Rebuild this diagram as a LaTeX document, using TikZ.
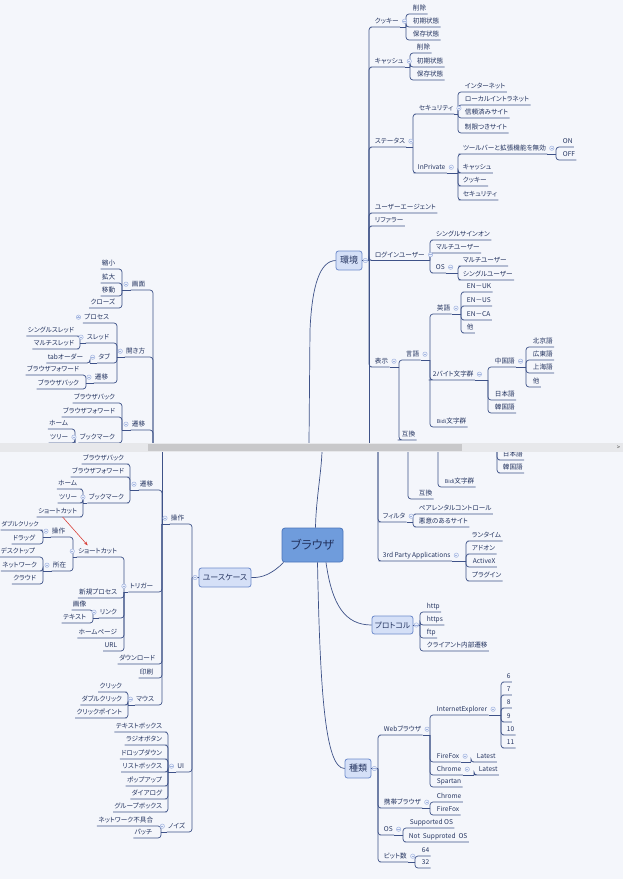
\documentclass[tikz,border=0pt]{standalone}
\usepackage{fontspec}
\setmainfont[RawFeature=+palt]{Noto Sans CJK JP}
\usetikzlibrary{arrows.meta}
\definecolor{bgc}{HTML}{F4F6FB}
\definecolor{txc}{HTML}{23335F}
\definecolor{lnc}{HTML}{3E5288}
\definecolor{hubf}{HTML}{D5E0F7}
\definecolor{hubd}{HTML}{6E8BCB}
\definecolor{brf}{HTML}{6F9CDC}
\definecolor{brd}{HTML}{4C76BC}
\definecolor{ccd}{HTML}{A3B5E0}
\definecolor{ccf}{HTML}{EEF2FB}
\definecolor{sepl}{HTML}{E7E8EB}
\definecolor{sepd}{HTML}{C8C8CA}
\definecolor{arrc}{HTML}{D9413A}
\newcommand\mmlab{\fontsize{6.6}{7}\selectfont}
\newcommand\mmR[2]{\draw[ln] (#1) |- (#2.south west) -- (#2.south east);}
\newcommand\mmL[2]{\draw[ln] (#1) |- (#2.south east) -- (#2.south west);}
\newcommand\mmSR[2]{\draw[ln] (#1.south east) -- (#2);}
\newcommand\mmSL[2]{\draw[ln] (#1.south west) -- (#2);}
\newcommand\mmCR[2][4.5pt]{\draw[cc] ([xshift=#1]#2.east) circle (2.2pt);\draw[ccd,line width=.5pt] ([xshift=#1-1.2pt]#2.east) -- ([xshift=#1+1.2pt]#2.east);}
\newcommand\mmCL[2][4.5pt]{\draw[cc] ([xshift=-#1]#2.west) circle (2.2pt);\draw[ccd,line width=.5pt] ([xshift=-#1-1.2pt]#2.west) -- ([xshift=-#1+1.2pt]#2.west);}
\begin{document}
\begin{tikzpicture}[x=1pt,y=-1pt,
 lf/.style={font=\mmlab, text=txc, inner xsep=1.2pt, inner ysep=2.3pt, text height=5.6pt, text depth=1pt},
 mr/.style={lf, anchor=south west},
 ml/.style={lf, anchor=south east},
 ln/.style={draw=lnc, line width=0.7pt, rounded corners=3pt},
 cn/.style={draw=lnc, line width=0.7pt},
 hub/.style={draw=hubd, fill=hubf, rounded corners=2.5pt, line width=0.8pt, text=txc, minimum height=19pt, inner sep=1pt},
 cc/.style={draw=ccd, fill=ccf, line width=0.5pt}]
\fill[bgc] (0,0) rectangle (623,879);
\useasboundingbox (0,0) rectangle (623,879);

% ================= central =================
\node[draw=brd, fill=brf, rounded corners=3pt, line width=0.8pt, minimum width=61pt, minimum height=34pt, font=\fontsize{12}{14}\selectfont, text=txc] (br) at (312.5,545) {ブラウザ};

% ================= 環境 (top view) =================
\node[hub, minimum width=26pt, font=\fontsize{9}{10}\selectfont] (env) at (349,260.5) {環境};
\coordinate (envT) at (369,260.5);
\coordinate (envE) at (369,443);
\draw[cn] (env.east) -- (envT) -- (envE);
\coordinate (cutT) at (309,443);
\coordinate (cutB) at (322,452);
\draw[cn] (cutT) -- (310,330) .. controls (312,285) and (320,261) .. (env.west);
\draw[cn] ([xshift=3pt]br.north) .. controls (316,500) and (321,475) .. (cutB);

\node[mr] (kk) at (373.5,27) {クッキー};
\node[mr] (ca) at (373.5,67) {キャッシュ};
\node[mr] (st) at (373.5,147) {ステータス};
\node[mr] (ua) at (373.5,213) {ユーザーエージェント};
\node[mr] (rf) at (373.5,226) {リファラー};
\node[mr] (lg) at (373.5,260.5) {ログインユーザー};
\node[mr] (hy) at (373.5,367) {表示};
\foreach \c in {kk,ca,st,ua,rf,lg,hy}{\mmR{envT}{\c}}

\coordinate (kkT) at (406,27);
\node[mr] (kk1) at (411.5,14) {削除};
\node[mr] (kk2) at (411.5,27) {初期状態};
\node[mr] (kk3) at (411.5,40) {保存状態};
\mmSR{kk}{kkT}\foreach \c in {kk1,kk2,kk3}{\mmR{kkT}{\c}}

\coordinate (caT) at (410,67);
\node[mr] (ca1) at (415.5,53) {削除};
\node[mr] (ca2) at (415.5,67) {初期状態};
\node[mr] (ca3) at (415.5,80) {保存状態};
\mmSR{ca}{caT}\foreach \c in {ca1,ca2,ca3}{\mmR{caT}{\c}}

\coordinate (stT) at (413,147);
\node[mr] (se) at (417.5,114) {セキュリティ};
\node[mr] (ip) at (416.5,173) {InPrivate};
\mmSR{st}{stT}\foreach \c in {se,ip}{\mmR{stT}{\c}}

\coordinate (seT) at (458,114);
\node[mr] (se1) at (463.5,92) {インターネット};
\node[mr] (se2) at (463.5,105) {ローカルイントラネット};
\node[mr] (se3) at (463.5,118) {信頼済みサイト};
\node[mr] (se4) at (463.5,133) {制限つきサイト};
\mmSR{se}{seT}\foreach \c in {se1,se2,se3,se4}{\mmR{seT}{\c}}

\coordinate (ipT) at (458,173);
\node[mr] (ip1) at (461.5,154) {ツールバーと拡張機能を無効};
\node[mr] (ip2) at (461.5,173) {キャッシュ};
\node[mr] (ip3) at (461.5,186) {クッキー};
\node[mr] (ip4) at (461.5,200) {セキュリティ};
\mmSR{ip}{ipT}\foreach \c in {ip1,ip2,ip3,ip4}{\mmR{ipT}{\c}}

\coordinate (ip1T) at (556,154);
\node[mr] (on) at (561.5,147) {ON};
\node[mr] (off) at (561.5,160) {OFF};
\mmSR{ip1}{ip1T}\foreach \c in {on,off}{\mmR{ip1T}{\c}}

\coordinate (lgT) at (430,260.5);
\node[mr] (lg1) at (434.5,240) {シングルサインオン};
\node[mr] (lg2) at (434.5,253) {マルチユーザー};
\node[mr] (lo) at (434.5,273) {OS};
\mmSR{lg}{lgT}\foreach \c in {lg1,lg2,lo}{\mmR{lgT}{\c}}

\coordinate (loT) at (458,273);
\node[mr] (lo1) at (461.5,266) {マルチユーザー};
\node[mr] (lo2) at (461.5,280) {シングルユーザー};
\mmSR{lo}{loT}\foreach \c in {lo1,lo2}{\mmR{loT}{\c}}

\coordinate (hyT) at (399,367);
\node[mr] (gg) at (404.5,360) {言語};
\node[mr] (gk) at (400.5,440) {互換};
\mmSR{hy}{hyT}\foreach \c in {gg,gk}{\mmR{hyT}{\c}}

\coordinate (ggT) at (430,360);
\node[mr] (en) at (435.5,314) {英語};
\node[mr] (tb) at (431.5,380) {2バイト文字群};
\node[mr] (bd) at (435.5,427) {{\fontsize{5.2}{6}\selectfont Bidi}文字群};
\mmSR{gg}{ggT}\foreach \c in {en,tb,bd}{\mmR{ggT}{\c}}

\coordinate (enT) at (461,314);
\node[mr] (en1) at (465.5,292) {EN－UK};
\node[mr] (en2) at (465.5,306) {EN－US};
\node[mr] (en3) at (465.5,320) {EN－CA};
\node[mr] (en4) at (465.5,333) {他};
\mmSR{en}{enT}\foreach \c in {en1,en2,en3,en4}{\mmR{enT}{\c}}

\coordinate (tbT) at (488,380);
\node[mr] (cn) at (493.5,367) {中国語};
\node[mr] (jp) at (493.5,400) {日本語};
\node[mr] (kr) at (493.5,413) {韓国語};
\mmSR{tb}{tbT}\foreach \c in {cn,jp,kr}{\mmR{tbT}{\c}}

\coordinate (cnT) at (526,367);
\node[mr] (cn1) at (531.5,347) {北京語};
\node[mr] (cn2) at (531.5,360) {広東語};
\node[mr] (cn3) at (531.5,373) {上海語};
\node[mr] (cn4) at (531.5,387) {他};
\mmSR{cn}{cnT}\foreach \c in {cn1,cn2,cn3,cn4}{\mmR{cnT}{\c}}

% ================= 操作 (top view) =================
\coordinate (opA) at (153,443);
\node[ml] (gm) at (146.5,290) {画面};
\node[ml] (hk) at (146.5,357) {開き方};
\node[ml] (sv) at (146.5,430) {遷移};
\foreach \c in {gm,hk,sv}{\mmL{opA}{\c}}

\coordinate (gmT) at (122,290);
\node[ml] (gm1) at (116.5,269) {縮小};
\node[ml] (gm2) at (116.5,283) {拡大};
\node[ml] (gm3) at (116.5,296) {移動};
\node[ml] (gm4) at (116.5,308) {クローズ};
\mmSL{gm}{gmT}\foreach \c in {gm1,gm2,gm3,gm4}{\mmL{gmT}{\c}}

\coordinate (hkT) at (117,357);
\node[ml] (ps) at (110.5,323) {プロセス};
\node[ml] (sr) at (110.5,343) {スレッド};
\node[ml] (tab) at (111.5,363) {タブ};
\node[ml] (hs) at (109.5,383) {遷移};
\mmSL{hk}{hkT}\foreach \c in {ps,sr,tab,hs}{\mmL{hkT}{\c}}

\coordinate (srT) at (80,343);
\node[ml] (sr1) at (75.5,336) {シングルスレッド};
\node[ml] (sr2) at (75.5,349) {マルチスレッド};
\mmSL{sr}{srT}\foreach \c in {sr1,sr2}{\mmL{srT}{\c}}

\coordinate (tabT) at (90,363);
\node[ml] (tab1) at (84.5,363) {tabオーダー};
\mmSL{tab}{tabT}\mmL{tabT}{tab1}

\coordinate (hsT) at (86,383);
\node[ml] (hs1) at (80.5,375) {ブラウザフォワード};
\node[ml] (hs2) at (80.5,389) {ブラウザバック};
\mmSL{hs}{hsT}\foreach \c in {hs1,hs2}{\mmL{hsT}{\c}}

\coordinate (svT) at (122,430);
\node[ml] (sv1) at (116.5,403) {ブラウザバック};
\node[ml] (sv2) at (116.5,417) {ブラウザフォワード};
\node[ml] (sv3) at (116.5,443) {ブックマーク};
\mmSL{sv}{svT}\foreach \c in {sv1,sv2,sv3}{\mmL{svT}{\c}}

\coordinate (sv3T) at (75,443);
\node[ml] (sv31) at (69.5,429) {ホーム};
\node[ml] (sv32) at (69.5,443) {ツリー};
\mmSL{sv3}{sv3T}\foreach \c in {sv31,sv32}{\mmL{sv3T}{\c}}

% ================= ユースケース (bottom view) =================
\node[hub, minimum width=52pt, font=\fontsize{8}{9}\selectfont] (uc) at (225,577.5) {ユースケース};
\coordinate (ucT) at (192,577.5);
\draw[cn] (uc.west) -- (ucT);
\draw[cn] ([xshift=2pt]br.south west) .. controls (272,574) and (262,578) .. (uc.east);
\node[ml] (op) at (185.5,524) {操作};
\node[ml] (ui) at (185.5,772) {UI};
\node[ml] (nz) at (186.5,832) {ノイズ};
\foreach \c in {op,ui,nz}{\mmL{ucT}{\c}}

\coordinate (opT) at (162,524);
\coordinate (opB) at (162,452);
\mmSL{op}{opT}\draw[cn] (opT) -- (opB);
\node[ml] (sb) at (154.5,490) {遷移};
\node[ml] (tr) at (154.5,592) {トリガー};
\node[ml] (dl) at (156.5,664) {ダウンロード};
\node[ml] (pr) at (154.5,678) {印刷};
\node[ml] (ms) at (155.5,705) {マウス};
\foreach \c in {sb,tr,dl,pr,ms}{\mmL{opT}{\c}}

\coordinate (sbT) at (130,490);
\node[ml] (sb1) at (125.5,464) {ブラウザバック};
\node[ml] (sb2) at (125.5,477) {ブラウザフォワード};
\node[ml] (bk) at (125.5,503) {ブックマーク};
\mmSL{sb}{sbT}\foreach \c in {sb1,sb2,bk}{\mmL{sbT}{\c}}

\coordinate (bkT) at (83,503);
\node[ml] (bk1) at (78.5,489) {ホーム};
\node[ml] (bk2) at (78.5,503) {ツリー};
\node[ml] (bk3) at (78.5,517) {ショートカット};
\mmSL{bk}{bkT}\foreach \c in {bk1,bk2,bk3}{\mmL{bkT}{\c}}

\coordinate (trT) at (124,592);
\node[ml] (sc) at (118.5,557) {ショートカット};
\node[ml] (np) at (118.5,598) {新規プロセス};
\node[ml] (lk) at (118.5,618) {リンク};
\node[ml] (hp) at (118.5,638) {ホームページ};
\node[ml] (ur) at (118.5,651) {URL};
\mmSL{tr}{trT}\foreach \c in {sc,np,lk,hp,ur}{\mmL{trT}{\c}}

\coordinate (scT) at (73,557);
\node[ml] (so) at (66.5,537) {操作};
\node[ml] (sz) at (67.5,571) {所在};
\mmSL{sc}{scT}\foreach \c in {so,sz}{\mmL{scT}{\c}}

\coordinate (soT) at (43,537);
\node[ml, font=\fontsize{6.1}{7}\selectfont, inner xsep=0.5pt] (so1) at (39.5,530) {ダブルクリック};
\node[ml] (so2) at (36.5,544) {ドラッグ};
\mmSL{so}{soT}\foreach \c in {so1,so2}{\mmL{soT}{\c}}

\coordinate (szT) at (43,571);
\node[ml] (sz1) at (36.5,557) {デスクトップ};
\node[ml] (sz2) at (38.5,571) {ネットワーク};
\node[ml] (sz3) at (37.5,584) {クラウド};
\mmSL{sz}{szT}\foreach \c in {sz1,sz2,sz3}{\mmL{szT}{\c}}

\coordinate (lkT) at (93,618);
\node[ml] (lk1) at (87.5,610) {画像};
\node[ml] (lk2) at (87.5,623) {テキスト};
\mmSL{lk}{lkT}\foreach \c in {lk1,lk2}{\mmL{lkT}{\c}}

\coordinate (msT) at (128,705);
\node[ml] (ms1) at (123.5,692) {クリック};
\node[ml] (ms2) at (123.5,705) {ダブルクリック};
\node[ml] (ms3) at (123.5,718) {クリックポイント};
\mmSL{ms}{msT}\foreach \c in {ms1,ms2,ms3}{\mmL{msT}{\c}}

\coordinate (uiT) at (168,772);
\node[ml] (ui1) at (163.5,732) {テキストボックス};
\node[ml] (ui2) at (163.5,745) {ラジオボタン};
\node[ml] (ui3) at (163.5,759) {ドロップダウン};
\node[ml] (ui4) at (163.5,772) {リストボックス};
\node[ml] (ui5) at (163.5,786) {ポップアップ};
\node[ml] (ui6) at (163.5,799) {ダイアログ};
\node[ml] (ui7) at (163.5,812) {グループボックス};
\mmSL{ui}{uiT}\foreach \c in {ui1,ui2,ui3,ui4,ui5,ui6,ui7}{\mmL{uiT}{\c}}

\coordinate (nzT) at (161,832);
\node[ml] (nz1) at (154.5,826) {ネットワーク不具合};
\node[ml] (nz2) at (153.5,838) {パッチ};
\mmSL{nz}{nzT}\foreach \c in {nz1,nz2}{\mmL{nzT}{\c}}

\draw[arrc, line width=0.6pt, -{Stealth[length=4pt,width=3pt]}] ([xshift=5pt]bk3.south) -- ([xshift=11pt]sc.north west);

% ================= 環境 (bottom view) =================
\coordinate (envB) at (378,452);
\node[mr] (fl) at (381.5,522) {フィルタ};
\node[mr] (tp) at (381.5,561) {3rd\ Party\ Applications};
\foreach \c in {fl,tp}{\mmR{envB}{\c}}

\coordinate (flT) at (413,522);
\node[mr] (fl1) at (417.5,514) {ペアレンタルコントロール};
\node[mr] (fl2) at (417.5,527) {悪意のあるサイト};
\mmSR{fl}{flT}\foreach \c in {fl1,fl2}{\mmR{flT}{\c}}

\coordinate (tpT) at (466,561);
\node[mr] (tp1) at (470.5,541) {ランタイム};
\node[mr] (tp2) at (470.5,554) {アドオン};
\node[mr] (tp3) at (471.5,567) {ActiveX};
\node[mr] (tp4) at (470.5,581) {プラグイン};
\mmSR{tp}{tpT}\foreach \c in {tp1,tp2,tp3,tp4}{\mmR{tpT}{\c}}

\coordinate (hyB) at (408,452);
\node[mr] (gkb) at (417.5,499) {互換};
\mmR{hyB}{gkb}
\coordinate (ggB) at (438,452);
\node[mr] (bdb) at (443.5,487) {{\fontsize{5.2}{6}\selectfont Bidi}文字群};
\mmR{ggB}{bdb}
\coordinate (tbB) at (497,452);
\node[mr] (jpb) at (501.5,460) {日本語};
\node[mr] (krb) at (501.5,473) {韓国語};
\foreach \c in {jpb,krb}{\mmR{tbB}{\c}}

% ================= プロトコル =================
\node[hub, minimum width=41pt, minimum height=18pt, font=\fontsize{7.8}{9}\selectfont] (pt) at (392.5,625) {プロトコル};
\draw[cn] ([xshift=13.5pt]br.south) .. controls (332,605) and (345,625) .. (pt.west);
\coordinate (ptT) at (420,625);
\draw[cn] (pt.east) -- (ptT);
\node[mr] (pt1) at (425.5,612) {http};
\node[mr] (pt2) at (425.5,625) {https};
\node[mr] (pt3) at (425.5,638) {ftp};
\node[mr] (pt4) at (425.5,651) {クライアント内部遷移};
\foreach \c in {pt1,pt2,pt3,pt4}{\mmR{ptT}{\c}}

% ================= 種類 =================
\node[hub, minimum width=26pt, font=\fontsize{9}{10}\selectfont] (kd) at (358,768.5) {種類};
\draw[cn] ([xshift=5pt]br.south) .. controls (320,690) and (325,768.5) .. (kd.west);
\coordinate (kdT) at (378,768.5);
\draw[cn] (kd.east) -- (kdT);
\node[mr] (wb) at (382.5,735) {Webブラウザ};
\node[mr] (mb) at (382.5,808) {携帯ブラウザ};
\node[mr] (ko) at (382.5,835) {OS};
\node[mr] (bt) at (382.5,862) {ビット数};
\foreach \c in {wb,mb,ko,bt}{\mmR{kdT}{\c}}

\coordinate (wbT) at (430,735);
\node[mr] (ie) at (435.5,715) {InternetExplorer};
\node[mr] (ff) at (435.5,762) {FireFox};
\node[mr] (ch) at (435.5,775) {Chrome};
\node[mr] (sp) at (435.5,787) {Spartan};
\mmSR{wb}{wbT}\foreach \c in {ie,ff,ch,sp}{\mmR{wbT}{\c}}

\coordinate (ieT) at (501,715);
\node[mr] (v6) at (505.5,682) {6};
\node[mr] (v7) at (505.5,695) {7};
\node[mr] (v8) at (505.5,708) {8};
\node[mr] (v9) at (505.5,722) {9};
\node[mr] (v10) at (505.5,735) {10};
\node[mr] (v11) at (505.5,748) {11};
\mmSR{ie}{ieT}\foreach \c in {v6,v7,v8,v9,v10,v11}{\mmR{ieT}{\c}}

\coordinate (ffT) at (471,762);
\node[mr] (ffl) at (475.5,762) {Latest};
\mmSR{ff}{ffT}\mmR{ffT}{ffl}
\coordinate (chT) at (474,775);
\node[mr] (chl) at (477.5,775) {Latest};
\mmSR{ch}{chT}\mmR{chT}{chl}

\coordinate (mbT) at (430,808);
\node[mr] (mb1) at (435.5,802) {Chrome};
\node[mr] (mb2) at (435.5,815) {FireFox};
\mmSR{mb}{mbT}\foreach \c in {mb1,mb2}{\mmR{mbT}{\c}}

\coordinate (koT) at (403,835);
\node[mr] (ko1) at (408.5,828) {Supported OS};
\node[mr] (ko2) at (407.5,842) {Not\ \ Supproted\ \ OS};
\mmSR{ko}{koT}\foreach \c in {ko1,ko2}{\mmR{koT}{\c}}

\coordinate (btT) at (415,862);
\node[mr] (bt1) at (420.5,856) {64};
\node[mr] (bt2) at (420.5,868) {32};
\mmSR{bt}{btT}\foreach \c in {bt1,bt2}{\mmR{btT}{\c}}

% ================= collapse circles =================
\mmCR[3pt]{env}\mmCR[3pt]{pt}\mmCR[3pt]{kd}\mmCL[3.5pt]{uc}
\foreach \c in {kk,ca,st,se,ip,ip1,lg,lo,hy,gg,en,tb,cn,fl,tp,wb,ie,ff,ch,mb,ko,bt}{\mmCR{\c}}
\foreach \c in {gm,hk,sr,tab,hs,sv,sv3,op,sb,bk,tr,sc,so,sz,lk,ms,ui,nz}{\mmCL{\c}}
\draw[cc] ([xshift=-4.5pt]ps.west) circle (2.2pt);
\draw[ccd,line width=.5pt] ([xshift=-5.7pt]ps.west) -- ([xshift=-3.3pt]ps.west) ([xshift=-4.5pt,yshift=1.2pt]ps.west) -- ([xshift=-4.5pt,yshift=-1.2pt]ps.west);

% ================= separator =================
\fill[sepl] (0,443) rectangle (623,452);
\fill[sepd] (148,444) rectangle (462,451);
\node[font=\fontsize{6}{6}\selectfont, text=black!70, inner sep=0pt] (gt) at (618.5,447.5) {>};
\end{tikzpicture}
\end{document}
